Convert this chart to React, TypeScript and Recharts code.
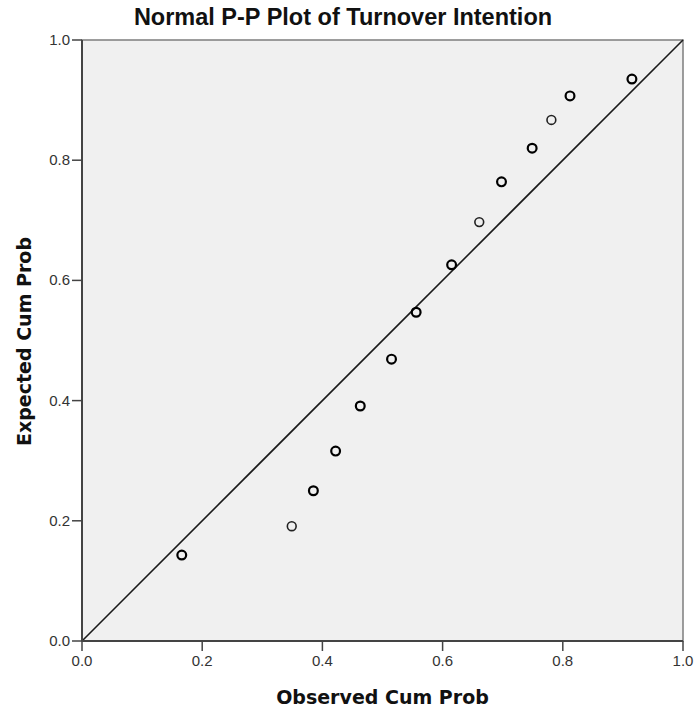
import React from 'react';
import { ScatterChart, Scatter, XAxis, YAxis, ReferenceLine, ReferenceArea, Label } from 'recharts';

const observedCum = [0.166, 0.349, 0.385, 0.422, 0.463, 0.515, 0.556, 0.615, 0.661, 0.698, 0.749, 0.781, 0.812, 0.915];
const expectedCum = [0.143, 0.191, 0.25, 0.316, 0.391, 0.469, 0.547, 0.626, 0.697, 0.764, 0.82, 0.867, 0.907, 0.935];
// 2 = overlapping cases (marker drawn darker)
const ties = [2, 1, 2, 2, 2, 2, 2, 2, 1, 2, 2, 1, 2, 2];
const axisTicks = [0, 0.2, 0.4, 0.6, 0.8, 1.0];

const points = observedCum.map((x, i) => ({ x, y: expectedCum[i], ties: ties[i] }));

const tickFont = '"Liberation Sans", Arial, sans-serif';
const titleFont = '"DejaVu Sans", Verdana, sans-serif';

const XTick = ({ x, y, payload }: any) => (
  <text x={x} y={y + 13} textAnchor="middle" fontSize={15} fontFamily={tickFont} fill="#333">
    {Number(payload.value).toFixed(1)}
  </text>
);

const YTick = ({ x, y, payload }: any) => (
  <text x={x} y={y + 5} textAnchor="end" fontSize={15} fontFamily={tickFont} fill="#333">
    {Number(payload.value).toFixed(1)}
  </text>
);

const Ring = (props: any) => {
  const { cx, cy, payload } = props;
  const heavy = payload.ties > 1;
  return (
    <circle
      cx={cx}
      cy={cy}
      r={4.4}
      fill="none"
      stroke={heavy ? '#000' : '#222'}
      strokeWidth={heavy ? 2.2 : 1.6}
    />
  );
};

export default function App() {
  return (
    <div style={{ position: 'absolute', left: 0, top: 0, width: 697, height: 708, background: '#fff' }}>
      <div
        style={{
          position: 'absolute',
          left: 0,
          width: 686,
          top: 4,
          textAlign: 'center',
          fontFamily: tickFont,
          fontSize: 23.5,
          fontWeight: 'bold',
          lineHeight: '27px',
          color: '#111',
        }}
      >
        Normal P-P Plot of Turnover Intention
      </div>
      <ScatterChart width={697} height={708} margin={{ top: 40, right: 14, bottom: 0, left: 0 }}>
        <ReferenceArea x1={0} x2={1} y1={0} y2={1} fill="#f0f0f0" fillOpacity={1} stroke="#7d7d7d" strokeWidth={1.5} />
        <XAxis
          type="number"
          dataKey="x"
          domain={[0, 1]}
          ticks={axisTicks}
          tick={XTick}
          tickSize={10}
          tickMargin={2}
          height={67}
          axisLine={{ stroke: '#444', strokeWidth: 2 }}
          tickLine={{ stroke: '#444', strokeWidth: 1.5 }}
        >
          <Label
            content={({ viewBox }: any) => (
              <text
                x={viewBox.x + viewBox.width / 2}
                y={704}
                textAnchor="middle"
                fontFamily={titleFont}
                fontWeight="bold"
                fontSize={19}
                fill="#111"
              >
                Observed Cum Prob
              </text>
            )}
          />
        </XAxis>
        <YAxis
          type="number"
          dataKey="y"
          domain={[0, 1]}
          ticks={axisTicks}
          tick={YTick}
          tickSize={10}
          tickMargin={2}
          width={82}
          axisLine={{ stroke: '#444', strokeWidth: 2 }}
          tickLine={{ stroke: '#444', strokeWidth: 1.5 }}
        >
          <Label
            content={({ viewBox }: any) => {
              const cy = viewBox.y + viewBox.height / 2 + 1;
              return (
                <text
                  x={31}
                  y={cy}
                  transform={`rotate(-90, 31, ${cy})`}
                  textAnchor="middle"
                  fontFamily={titleFont}
                  fontWeight="bold"
                  fontSize={19}
                  fill="#111"
                >
                  Expected Cum Prob
                </text>
              );
            }}
          />
        </YAxis>
        <ReferenceLine
          segment={[{ x: 0, y: 0 }, { x: 1, y: 1 }]}
          stroke="#1a1a1a"
          strokeWidth={1.6}
        />
        <Scatter data={points} shape={Ring} isAnimationActive={false} />
      </ScatterChart>
    </div>
  );
}
